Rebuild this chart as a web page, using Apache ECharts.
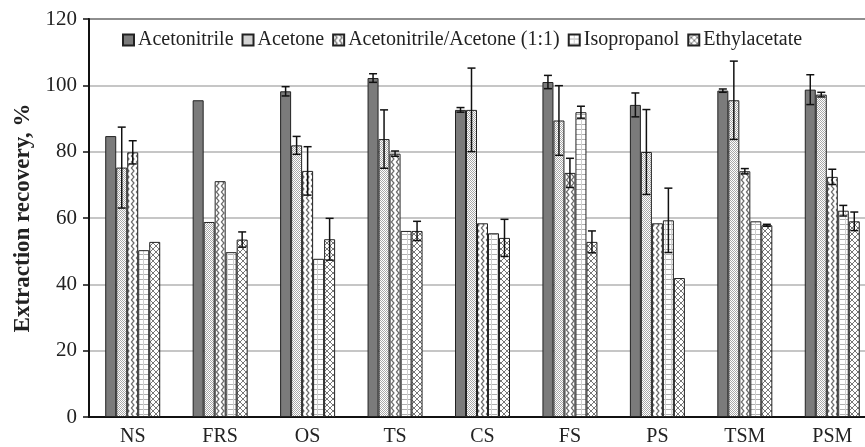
<!DOCTYPE html>
<html><head><meta charset="utf-8">
<script src="https://cdn.jsdelivr.net/npm/echarts@6/dist/echarts.min.js"></script>
<style>html,body{margin:0;padding:0;background:#fff;overflow:hidden}#c{width:876px;height:447px}</style>
</head><body><div id="c"></div>
<script>
const categories = ['NS','FRS','OS','TS','CS','FS','PS','TSM','PSM'];
const seriesNames = ['Acetonitrile','Acetone','Acetonitrile/Acetone (1:1)','Isopropanol','Ethylacetate'];
const acetonitrile    = [84.7, 95.5, 98.2, 102.2, 92.6, 101.0, 94.1, 98.4, 98.7];
const acetonitrileErr = [0, 0, 1.4, 1.3, 0.7, 2.0, 3.6, 0.5, 4.5];
const acetone         = [75.2, 58.8, 81.9, 83.8, 92.6, 89.4, 79.9, 95.5, 97.2];
const acetoneErr      = [12.2, 0, 2.7, 8.8, 12.6, 10.5, 12.8, 11.8, 0.7];
const mix             = [79.8, 71.1, 74.2, 79.4, 58.4, 73.6, 58.4, 74.1, 72.4];
const mixErr          = [3.5, 0, 7.3, 0.8, 0, 4.4, 0, 0.8, 2.3];
const isopropanol     = [50.3, 49.7, 47.7, 56.1, 55.4, 91.9, 59.3, 59.0, 62.2];
const isopropanolErr  = [0, 0, 0, 0, 0, 1.8, 9.7, 0, 1.6];
const ethylacetate    = [52.8, 53.5, 53.6, 56.1, 54.0, 52.8, 41.9, 57.8, 59.0];
const ethylacetateErr = [0, 2.3, 6.3, 2.9, 5.6, 3.3, 0, 0.3, 2.8];
const yTicks = [0, 20, 40, 60, 80, 100, 120];

const FONT = "'Liberation Serif', 'DejaVu Serif', serif";

function pat(w, h, draw) {
  const c = document.createElement('canvas');
  c.width = w; c.height = h;
  const g = c.getContext('2d');
  g.fillStyle = '#fff'; g.fillRect(0, 0, w, h);
  draw(g);
  return { image: c, repeat: 'repeat' };
}
const fills = [
  '#7b7b7b',
  pat(2, 2, g => { g.fillStyle = '#a8a8a8'; g.fillRect(0, 0, 1, 1); g.fillRect(1, 1, 1, 1); }),
  pat(5, 6, g => { g.strokeStyle = '#6a6a6a'; g.lineWidth = 1.2; g.beginPath(); g.moveTo(0.5, -1); g.lineTo(4, 3); g.lineTo(0.5, 7); g.stroke(); }),
  pat(6, 5, g => { g.fillStyle = '#b0b0b0'; g.fillRect(0, 4, 6, 1); g.fillStyle = '#d0d0d0'; g.fillRect(5, 0, 1, 5); }),
  pat(6, 6, g => { g.strokeStyle = '#777'; g.lineWidth = 1; g.beginPath(); g.moveTo(0, 0); g.lineTo(6, 6); g.moveTo(6, 0); g.lineTo(0, 6); g.stroke(); })
];

const values = [acetonitrile, acetone, mix, isopropanol, ethylacetate];
const errors = [acetonitrileErr, acetoneErr, mixErr, isopropanolErr, ethylacetateErr];
const BAR_W = 11;

function errRender(offset) {
  return function (params, api) {
    const i = api.value(0), v = api.value(1), e = api.value(2);
    if (!e) return null;
    const t = api.coord([i, v + e]);
    const b = api.coord([i, v - e]);
    const x = t[0] + offset, hw = 4;
    const st = { stroke: '#111', lineWidth: 1.5 };
    return {
      type: 'group',
      children: [
        { type: 'line', shape: { x1: x, y1: t[1], x2: x, y2: b[1] }, style: st },
        { type: 'line', shape: { x1: x - hw, y1: t[1], x2: x + hw, y2: t[1] }, style: st },
        { type: 'line', shape: { x1: x - hw, y1: b[1], x2: x + hw, y2: b[1] }, style: st }
      ]
    };
  };
}

const series = [];
seriesNames.forEach((n, k) => {
  series.push({
    name: n, type: 'bar', data: values[k], barWidth: BAR_W, barGap: '0%',
    itemStyle: { color: fills[k], borderColor: '#222', borderWidth: 1 }
  });
});
seriesNames.forEach((n, k) => {
  series.push({
    name: 'err' + k, type: 'custom', z: 5,
    renderItem: errRender((k - 2) * BAR_W),
    data: values[k].map((v, i) => [i, v, errors[k][i]]),
    encode: { x: 0, y: 1 }
  });
});

const chart = echarts.init(document.getElementById('c'));
chart.setOption({
  animation: false,
  backgroundColor: '#fff',
  grid: { left: 89, right: 0, top: 19, bottom: 27, show: true, borderColor: '#222', borderWidth: 2, backgroundColor: 'transparent' },
  legend: {
    data: seriesNames, left: 117, top: 25, itemWidth: 11, itemHeight: 11, itemGap: 8,
    icon: 'rect',
    textStyle: { fontFamily: FONT, fontSize: 20, color: '#222', padding: [0, 0, 0, -1] }
  },
  xAxis: {
    type: 'category', data: categories,
    axisLine: { lineStyle: { color: '#111', width: 2 } },
    axisTick: { alignWithLabel: true, length: 5, lineStyle: { color: '#111', width: 1.5 } },
    axisLabel: { fontFamily: FONT, fontSize: 20, color: '#222', margin: 10 }
  },
  yAxis: {
    type: 'value', min: yTicks[0], max: yTicks[yTicks.length - 1], interval: yTicks[1] - yTicks[0],
    name: 'Extraction recovery, %', nameLocation: 'middle', nameGap: 54,
    nameTextStyle: { fontFamily: FONT, fontSize: 23, fontWeight: 'bold', color: '#222' },
    axisLine: { show: true, lineStyle: { color: '#111', width: 2 } },
    axisTick: { show: true, length: 6, lineStyle: { color: '#111', width: 1.5 } },
    axisLabel: { fontFamily: FONT, fontSize: 21, color: '#222', margin: 12 },
    splitLine: { lineStyle: { color: '#b3b3b3', width: 1.5 } }
  },
  series: series
});
</script>
</body></html>
